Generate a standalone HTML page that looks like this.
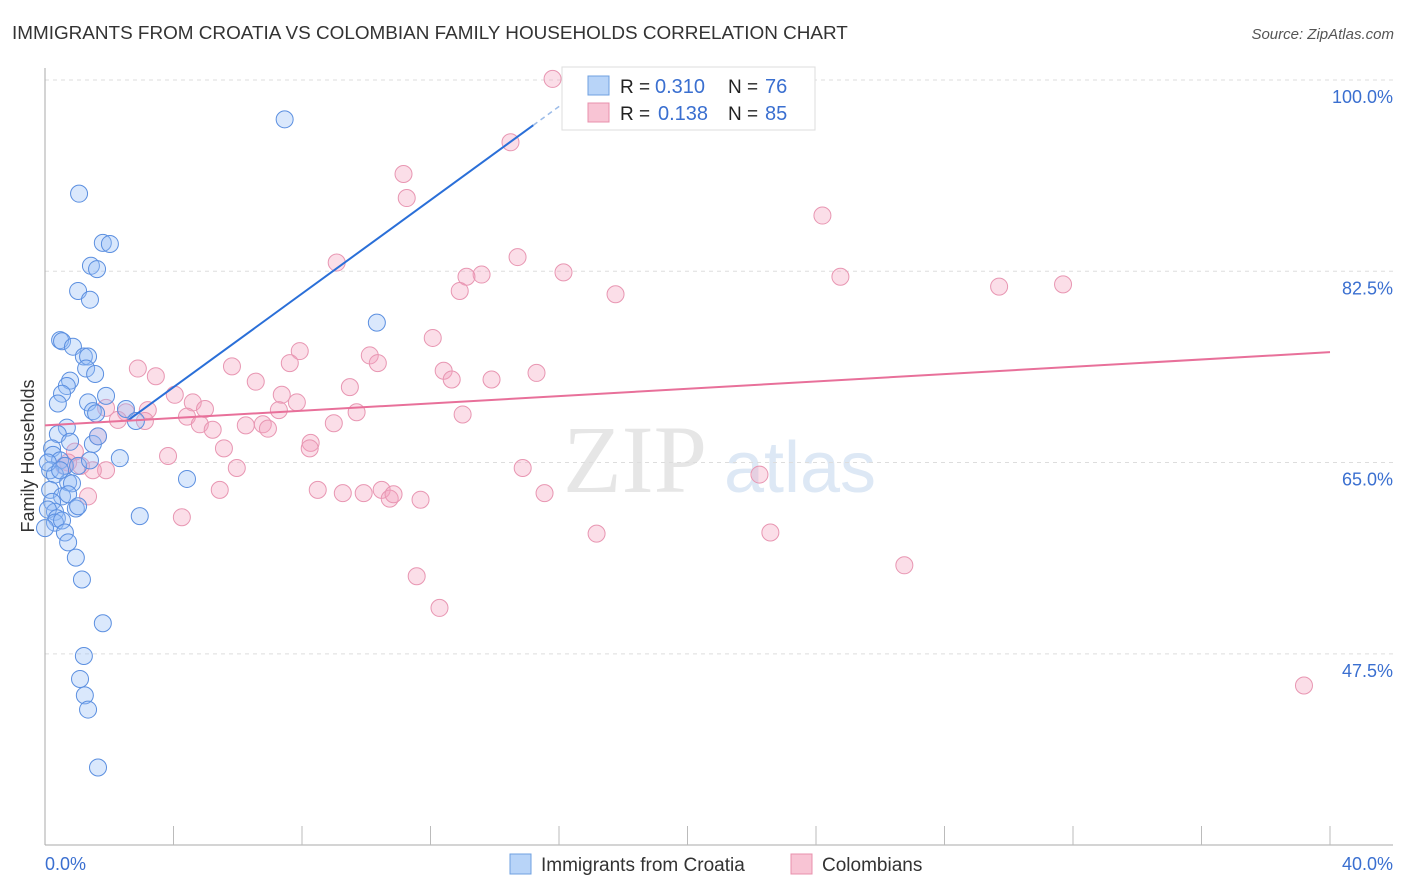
<!DOCTYPE html>
<html><head><meta charset="utf-8"><style>
body{margin:0;background:#fff;font-family:"Liberation Sans",sans-serif;}
svg{display:block}
</style></head><body>
<svg id="chart" width="1406" height="892" xmlns="http://www.w3.org/2000/svg">
<text x="12" y="39" font-size="18.9" fill="#333">IMMIGRANTS FROM CROATIA VS COLOMBIAN FAMILY HOUSEHOLDS CORRELATION CHART</text>
<text x="1394" y="39" font-size="15" fill="#555" text-anchor="end" font-style="italic">Source: ZipAtlas.com</text>
<g><text x="635" y="492" font-size="96" fill="#e6e6e6" font-family="Liberation Serif,serif" text-anchor="middle">ZIP</text><text x="800" y="492" font-size="72" fill="#dde8f5" text-anchor="middle">atlas</text></g>
<g id="grid"></g><g id="axes"></g>
<text transform="translate(34,456) rotate(-90)" font-size="18" fill="#333" text-anchor="middle">Family Households</text>
<g id="marks"></g>
<g>
<rect x="562" y="67" width="253" height="63" fill="#fff" stroke="#ddd"/>
<rect x="588" y="76" width="21" height="19" fill="#b8d4f8" stroke="#6fa0e0"/>
<rect x="588" y="103" width="21" height="19" fill="#f8c4d4" stroke="#e890ac"/>
<text x="620" y="93" font-size="19" fill="#222">R =</text>
<text x="655" y="93" font-size="20" fill="#3a6fd0">0.310</text>
<text x="728" y="93" font-size="19" fill="#222">N =</text>
<text x="765" y="93" font-size="20" fill="#3a6fd0">76</text>
<text x="620" y="120" font-size="19" fill="#222">R =</text>
<text x="658" y="120" font-size="20" fill="#3a6fd0">0.138</text>
<text x="728" y="120" font-size="19" fill="#222">N =</text>
<text x="765" y="120" font-size="20" fill="#3a6fd0">85</text>
</g>
<g>
<rect x="510" y="854" width="21" height="20" fill="#b8d4f8" stroke="#6fa0e0"/>
<text x="541" y="871" font-size="19" fill="#333">Immigrants from Croatia</text>
<rect x="791" y="854" width="21" height="20" fill="#f8c4d4" stroke="#e890ac"/>
<text x="822" y="871" font-size="19" fill="#333">Colombians</text>
</g>
</svg>
<script>
const blueX=[7.46,1.06,1.80,2.02,1.43,1.62,1.03,1.40,10.33,0.47,0.53,0.87,1.21,1.34,1.28,1.56,0.78,0.68,0.53,1.90,0.40,1.34,1.49,1.59,2.52,2.83,0.68,0.40,0.78,1.49,0.22,2.33,0.25,0.47,0.62,0.16,1.03,0.31,0.72,0.84,0.16,0.53,0.72,0.22,0.96,1.03,0.31,0.09,0.37,2.95,0.31,0.53,0.0,0.62,0.72,0.96,1.15,1.80,1.21,1.09,1.24,1.34,1.65,4.42,1.40,1.65,0.09,0.47];
const blueY=[96.4,89.6,85.1,85.0,83.0,82.7,80.7,79.9,77.8,76.2,76.1,75.6,74.7,74.7,73.6,73.1,72.5,72.0,71.3,71.1,70.4,70.5,69.7,69.5,69.9,68.8,68.2,67.6,66.9,66.7,66.3,65.4,65.7,65.2,64.7,64.3,64.7,63.9,63.2,63.1,62.5,61.9,62.1,61.4,60.8,61.0,60.5,60.7,59.9,60.1,59.5,59.7,59.0,58.6,57.7,56.3,54.3,50.3,47.3,45.2,43.7,42.4,37.1,63.5,65.2,67.4,65.0,64.3];
const pinkX=[15.80,14.49,11.16,11.26,24.20,14.71,9.08,16.14,13.59,13.12,24.76,31.69,29.70,12.91,17.76,12.07,7.93,10.11,10.36,7.62,5.82,2.89,3.45,12.41,15.30,12.66,13.90,6.56,9.49,4.04,7.37,4.60,7.84,1.90,3.20,4.98,9.70,7.28,2.52,4.42,13.00,2.27,3.11,4.82,6.25,6.78,5.22,6.94,8.99,1.65,8.27,8.24,5.57,3.83,0.93,0.72,1.12,1.90,0.59,1.49,5.97,14.87,22.24,1.34,5.44,8.49,9.27,9.92,10.48,10.73,10.85,11.69,15.55,4.26,17.17,22.58,26.75,11.57,12.28,39.19];
const pinkY=[100.1,94.3,91.4,89.2,87.6,83.8,83.3,82.4,82.2,82.0,82.0,81.3,81.1,80.7,80.4,76.4,75.2,74.8,74.1,74.1,73.8,73.6,72.9,73.4,73.2,72.6,72.6,72.4,71.9,71.2,71.2,70.5,70.5,70.0,69.8,69.9,69.6,69.8,69.6,69.2,69.4,68.9,68.8,68.5,68.4,68.5,68.0,68.1,68.6,67.4,66.8,66.3,66.3,65.6,66.0,65.0,64.7,64.3,64.7,64.3,64.5,64.5,63.9,61.9,62.5,62.5,62.2,62.2,62.5,61.7,62.1,61.6,62.2,60.0,58.5,58.6,55.6,54.6,51.7,44.6];
const yTicks=[100,82.5,65,47.5];
const yTickLabels=["100.0%","82.5%","65.0%","47.5%"];
const xTickCount=10;
const blueTrend=[68.9-2.6*2.14,2.14];
const pinkTrend=[68.4,0.1675];
const NS="http://www.w3.org/2000/svg";
const X0=45,X1=1330,Y100=80,PXY=10.93;
const sx=v=>X0+(v/40)*(X1-X0);
const sy=v=>Y100+(100-v)*PXY;
function mk(p,t,a){const e=document.createElementNS(NS,t);for(const k in a)e.setAttribute(k,a[k]);p.appendChild(e);return e;}
const grid=document.getElementById('grid'),axes=document.getElementById('axes'),marks=document.getElementById('marks');
yTicks.forEach((t,i)=>{
 const l=mk(grid,'line',{x1:X0,x2:1393,y1:sy(t),y2:sy(t),stroke:'#ddd','stroke-dasharray':'4,4'});
 
 
 const tx=mk(grid,'text',{x:1393,y:sy(t)+23,'font-size':18,fill:'#3a6fd0','text-anchor':'end'});
 tx.textContent=yTickLabels[i];
 
 
});
let a=mk(axes,'line',{x1:X0,x2:X0,y1:68,y2:845,stroke:'#aaa'});


a=mk(axes,'line',{x1:X0,x2:1393,y1:845,y2:845,stroke:'#aaa'});


for(let i=1;i<=xTickCount;i++){const v=i*4;const t=mk(axes,'line',{x1:sx(v),x2:sx(v),y1:826,y2:845,stroke:'#bbb'});
 
 }
let xl=mk(axes,'text',{x:45,y:870,'font-size':18,fill:'#3a6fd0'});xl.textContent='0.0%';


xl=mk(axes,'text',{x:1393,y:870,'font-size':18,fill:'#3a6fd0','text-anchor':'end'});xl.textContent='40.0%';


pinkX.forEach((x,i)=>{const c=mk(marks,'circle',{cx:sx(x),cy:sy(pinkY[i]),r:8.5,fill:'rgba(244,160,190,0.35)',stroke:'#e896b2','stroke-width':1});
 
 });
blueX.forEach((x,i)=>{const c=mk(marks,'circle',{cx:sx(x),cy:sy(blueY[i]),r:8.5,fill:'rgba(150,190,245,0.35)',stroke:'#5b8fe0','stroke-width':1});
 
 });
const bf=x=>blueTrend[0]+blueTrend[1]*x, pf=x=>pinkTrend[0]+pinkTrend[1]*x;
let tl=mk(marks,'line',{x1:sx(2.6),y1:sy(bf(2.6)),x2:sx(15.2),y2:sy(bf(15.2)),stroke:'#2a6fd8','stroke-width':2});


tl=mk(marks,'line',{x1:sx(15.2),y1:sy(bf(15.2)),x2:sx(17.4),y2:sy(bf(17.4)),stroke:'#9bbbe8','stroke-width':1.5,'stroke-dasharray':'5,4'});


tl=mk(marks,'line',{x1:sx(0),y1:sy(pf(0)),x2:sx(40),y2:sy(pf(40)),stroke:'#e8709a','stroke-width':2});


</script>
</body></html>
